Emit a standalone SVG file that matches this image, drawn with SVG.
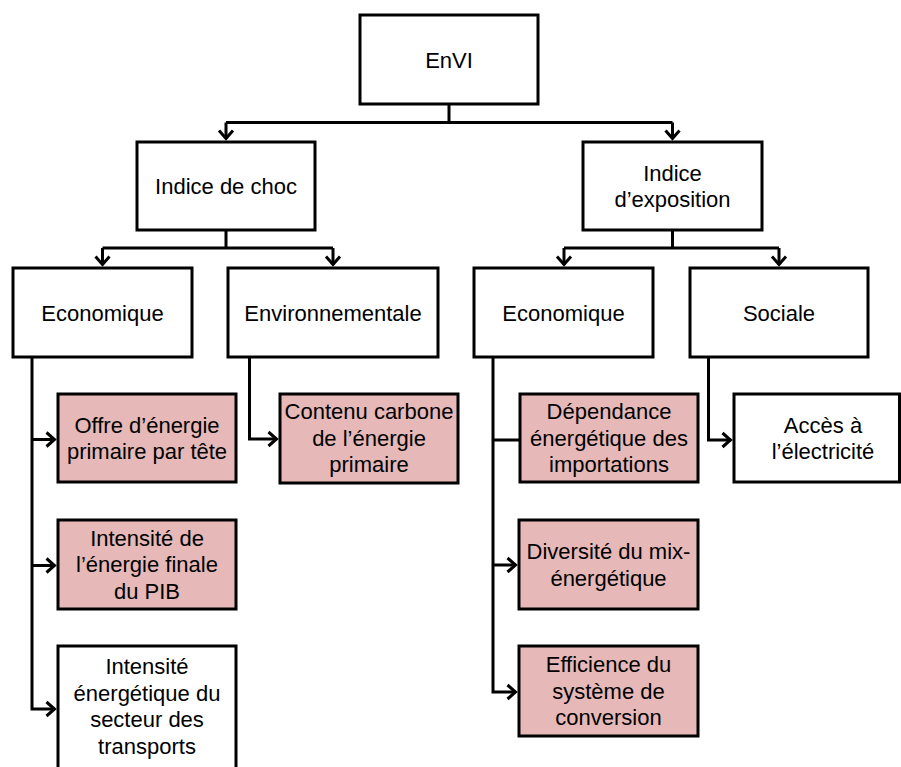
<svg xmlns="http://www.w3.org/2000/svg" width="901" height="767" viewBox="0 0 901 767">
<style>
  .box { fill: #ffffff; stroke: #000000; stroke-width: 3; }
  .pink { fill: #e6b8b7; stroke: #000000; stroke-width: 3; }
  .lbl { font-family: "Liberation Sans", Arial, sans-serif; font-size: 22px; fill: #000000; text-anchor: middle; }
  .con { fill: none; stroke: #000000; stroke-width: 3; }
</style>
<defs>
  <marker id="arr" viewBox="-10 -10 20 20" markerWidth="20" markerHeight="20" markerUnits="userSpaceOnUse" refX="0" refY="0" orient="auto">
    <path d="M-8,-7 L0,0 L-8,7" fill="none" stroke="#000000" stroke-width="3"/>
  </marker>
</defs>
<rect width="901" height="767" fill="#ffffff"/>

<g id="connectors">
  <path class="con" d="M449,104 V122.5 M226,122.5 H672.5"/>
  <path class="con" d="M226,122.5 V138.5" marker-end="url(#arr)"/>
  <path class="con" d="M672.5,122.5 V138.5" marker-end="url(#arr)"/>

  <path class="con" d="M226,230 V248 M102.5,248 H333"/>
  <path class="con" d="M102.5,248 V264.5" marker-end="url(#arr)"/>
  <path class="con" d="M333,248 V264.5" marker-end="url(#arr)"/>

  <path class="con" d="M672.5,230 V248 M564,248 H779"/>
  <path class="con" d="M564,248 V264.5" marker-end="url(#arr)"/>
  <path class="con" d="M779,248 V264.5" marker-end="url(#arr)"/>

  <path class="con" d="M32,357 V709 H54.5" marker-end="url(#arr)"/>
  <path class="con" d="M32,439.5 H54.5" marker-end="url(#arr)"/>
  <path class="con" d="M32,565.5 H54.5" marker-end="url(#arr)"/>

  <path class="con" d="M249.5,357 V439 H276.5" marker-end="url(#arr)"/>

  <path class="con" d="M493,357 V692 H515.5" marker-end="url(#arr)"/>
  <path class="con" d="M493,440 H520"/>
  <path class="con" d="M493,565 H515.5" marker-end="url(#arr)"/>

  <path class="con" d="M708.5,357 V440 H730.5" marker-end="url(#arr)"/>
</g>

<g id="envi">
  <rect class="box" x="360" y="15" width="178" height="89"/>
  <text class="lbl" x="449" y="68">EnVI</text>
</g>
<g id="indice-choc">
  <rect class="box" x="137" y="142" width="178" height="88"/>
  <text class="lbl" x="226" y="194">Indice de choc</text>
</g>
<g id="indice-exposition">
  <rect class="box" x="583" y="142" width="179" height="88"/>
  <text class="lbl" x="672.5" y="180.5">Indice</text>
  <text class="lbl" x="672.5" y="207">d’exposition</text>
</g>
<g id="economique-choc">
  <rect class="box" x="13" y="268" width="179" height="89"/>
  <text class="lbl" x="102.5" y="320.5">Economique</text>
</g>
<g id="environnementale">
  <rect class="box" x="228" y="268" width="210" height="89"/>
  <text class="lbl" x="333" y="320.5">Environnementale</text>
</g>
<g id="economique-expo">
  <rect class="box" x="474" y="268" width="179" height="89"/>
  <text class="lbl" x="563.5" y="320.5">Economique</text>
</g>
<g id="sociale">
  <rect class="box" x="690" y="268" width="178" height="89"/>
  <text class="lbl" x="779" y="320.5">Sociale</text>
</g>
<g id="offre">
  <rect class="pink" x="58" y="394" width="178" height="88"/>
  <text class="lbl" x="147" y="432.5">Offre d’énergie</text>
  <text class="lbl" x="147" y="459">primaire par tête</text>
</g>
<g id="contenu">
  <rect class="pink" x="280" y="394" width="178" height="89"/>
  <text class="lbl" x="369" y="419">Contenu carbone</text>
  <text class="lbl" x="369" y="445.5">de l’énergie</text>
  <text class="lbl" x="369" y="472">primaire</text>
</g>
<g id="dependance">
  <rect class="pink" x="520" y="394" width="178" height="88"/>
  <text class="lbl" x="609" y="419">Dépendance</text>
  <text class="lbl" x="609" y="445.5">énergétique des</text>
  <text class="lbl" x="609" y="472">importations</text>
</g>
<g id="acces">
  <rect class="box" x="734" y="394" width="165.5" height="88"/>
  <text class="lbl" x="823" y="432.5">Accès à</text>
  <text class="lbl" x="823" y="459">l’électricité</text>
</g>
<g id="intensite-finale">
  <rect class="pink" x="58" y="520" width="178" height="89"/>
  <text class="lbl" x="147" y="545.5">Intensité de</text>
  <text class="lbl" x="147" y="572">l’énergie finale</text>
  <text class="lbl" x="147" y="598.5">du PIB</text>
</g>
<g id="intensite-transports">
  <rect class="box" x="58" y="646" width="178" height="126"/>
  <text class="lbl" x="147" y="674">Intensité</text>
  <text class="lbl" x="147" y="700.5">énergétique du</text>
  <text class="lbl" x="147" y="727">secteur des</text>
  <text class="lbl" x="147" y="753.5">transports</text>
</g>
<g id="diversite">
  <rect class="pink" x="519" y="520" width="179" height="89"/>
  <text class="lbl" x="608.5" y="559">Diversité du mix-</text>
  <text class="lbl" x="608.5" y="585.5">énergétique</text>
</g>
<g id="efficience">
  <rect class="pink" x="519" y="646" width="179" height="90"/>
  <text class="lbl" x="608.5" y="672">Efficience du</text>
  <text class="lbl" x="608.5" y="698.5">système de</text>
  <text class="lbl" x="608.5" y="725">conversion</text>
</g>
</svg>
